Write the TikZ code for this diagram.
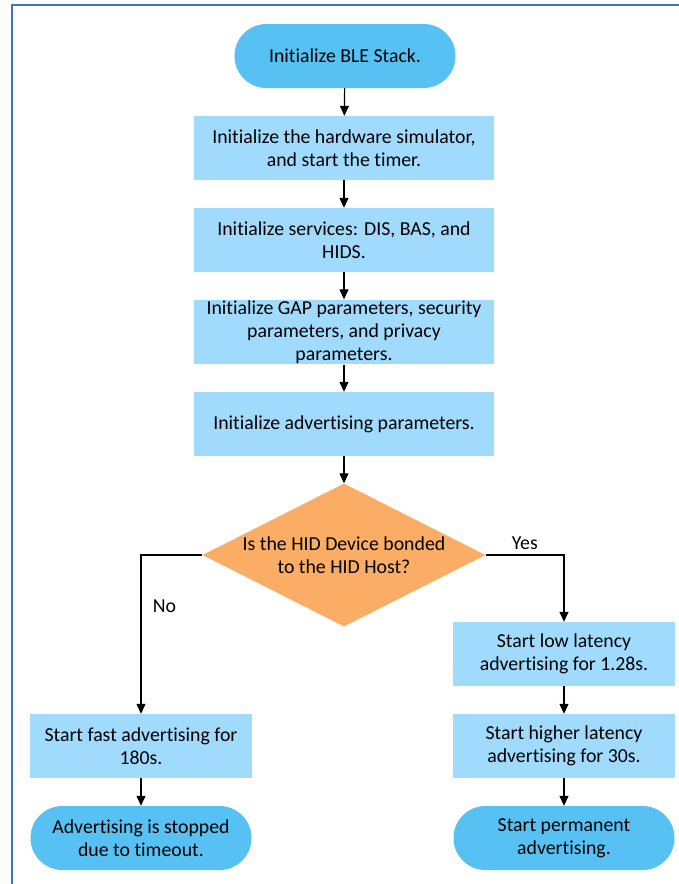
\documentclass[tikz,border=0pt]{standalone}
\usepackage{fontspec}
\setmainfont{Carlito}[Ligatures=NoCommon]
\usepackage{xcolor}
\usetikzlibrary{arrows.meta}
\usetikzlibrary{shapes.geometric}

\definecolor{boxblue}{RGB}{160,218,253}
\definecolor{termblue}{RGB}{88,193,243}
\definecolor{qorange}{RGB}{252,173,101}
\definecolor{frameblue}{RGB}{68,114,196}

\begin{document}
\begin{tikzpicture}[x=1pt,y=-1pt]
  \tikzset{every node/.style = {font=\fontsize{19.8}{23}\selectfont}}
  \tikzset{stepbox/.style = {shape=rectangle,fill=boxblue,minimum width=300pt,minimum height=64pt,inner sep=1pt,align=center}}
    \tikzset{sidebox/.style = {stepbox,minimum width=222pt}}
    \tikzset{terminal/.style = {shape=rectangle,rounded corners=31.9pt,fill=termblue,minimum width=221pt,minimum height=64pt,inner sep=1pt,align=center}}
  \tikzset{decision/.style = {shape=diamond,aspect=2,fill=qorange,minimum width=283pt,minimum height=143pt,inner sep=0pt,align=center}}
  \tikzset{%
  tipF/.tip={Triangle[width=9pt,length=10pt]},
}

  \useasboundingbox (0,0) rectangle (679,884);
  \draw[frameblue,line width=1.5pt] (12,884) -- (12,5) -- (679,5);

	\node[terminal] (IBS) at (345,56) {Initialize BLE Stack.};
	\node[stepbox] (IHS) at (344,148) {Initialize the hardware simulator,\\and start the timer.};
	\node[stepbox] (ISV) at (344,240) {Initialize services: DIS, BAS, and\\HIDS.};
	\node[stepbox] (IGP) at (344,332) {Initialize GAP parameters, security\\parameters, and privacy\\parameters.};
	\node[stepbox] (IAP) at (344,424) {Initialize advertising parameters.};

	\node[decision] (BD) at (344,555) {Is the HID Device bonded\\to the HID Host?};

	\node[sidebox] (FA) at (141,746) {Start fast advertising for\\180s.};
	\node[terminal] (AS) at (141,838) {Advertising is stopped\\due to timeout.};

	\node[sidebox] (LL) at (564,654) {Start low latency\\advertising for 1.28s.};
	\node[sidebox] (HL) at (564,746) {Start higher latency\\advertising for 30s.};
	\node[terminal] (PA) at (564,838) {Start permanent\\advertising.};

    \foreach \from/\to in {IBS/IHS,IHS/ISV,ISV/IGP,IGP/IAP,IAP/BD,FA/AS,LL/HL,HL/PA}
    \path[-tipF,line width=1.2pt](\from) edge (\to);

    \draw[-tipF,line width=1.2pt] (BD.west) -| node [pos=0.66,right=8pt]{No} (FA.north);
    \draw[-tipF,line width=1.2pt] (BD.east) -| node [pos=0.25,above=1pt]{Yes} (LL.north);

\end{tikzpicture}
\end{document}
